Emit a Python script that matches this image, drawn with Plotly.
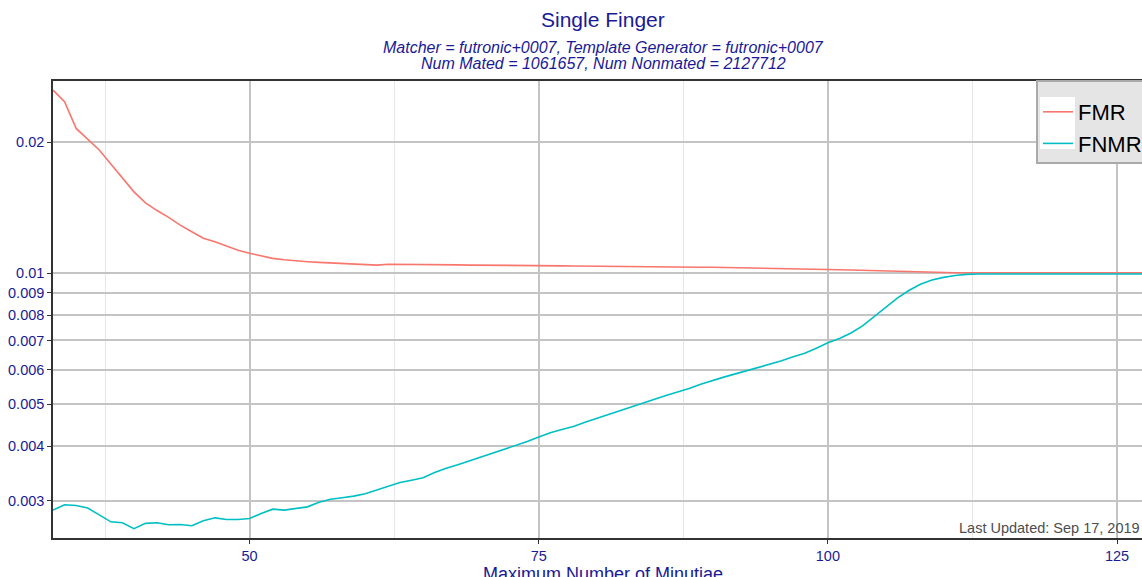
import plotly.graph_objects as go

minutiae = [33, 34, 35, 36, 37, 38, 39, 40, 41, 42, 43, 44, 45, 46, 47, 48, 49, 50,
            51, 52, 53, 54, 55, 56, 57, 58, 59, 60, 61, 62, 63, 64, 65, 66, 67, 68,
            69, 70, 71, 72, 73, 74, 75, 76, 77, 78, 79, 80, 81, 82, 83, 84, 85, 86,
            87, 88, 89, 90, 91, 92, 93, 94, 95, 96, 97, 98, 99, 100, 101, 102, 103,
            104, 105, 106, 107, 108, 109, 110, 111, 112, 113, 114, 115, 116, 117,
            118, 119, 120, 121, 122, 123, 124, 125, 126, 127, 128]

fmr = [0.02634, 0.02476, 0.02150, 0.02030, 0.01918, 0.01780, 0.01655, 0.01537,
       0.01450, 0.01392, 0.01343, 0.01289, 0.01244, 0.01202, 0.01180, 0.01155,
       0.01128, 0.01110, 0.01095, 0.01081, 0.01073, 0.01066, 0.01062, 0.01058,
       0.01055, 0.01052, 0.01048, 0.01045, 0.01043, 0.01048, 0.01048, 0.01047,
       0.01046, 0.01046, 0.01045, 0.01044, 0.01043, 0.01043, 0.01043, 0.01042,
       0.01042, 0.01042, 0.01041, 0.01040, 0.01039, 0.01038, 0.01037, 0.01036,
       0.01036, 0.01035, 0.01035, 0.01034, 0.01034, 0.01033, 0.01033, 0.01032,
       0.01031, 0.01031, 0.01030, 0.01030, 0.01029, 0.01028, 0.01027, 0.01026,
       0.01025, 0.01024, 0.01022, 0.01020, 0.01018, 0.01016, 0.01014, 0.01012,
       0.01010, 0.01008, 0.01006, 0.01005, 0.01004, 0.01003, 0.01002, 0.01002,
       0.01002, 0.01002, 0.01002, 0.01002, 0.01002, 0.01002, 0.01002, 0.01002,
       0.01002, 0.01002, 0.01002, 0.01002, 0.01002, 0.01002, 0.01002, 0.01002]

fnmr = [0.002852, 0.002934, 0.002924, 0.002883, 0.002782, 0.002681, 0.002667,
        0.002585, 0.002659, 0.002667, 0.002639, 0.002644, 0.002625, 0.002695,
        0.002738, 0.002715, 0.002715, 0.002729, 0.002802, 0.002867, 0.002852,
        0.002878, 0.002902, 0.002975, 0.003020, 0.003045, 0.003071, 0.003110,
        0.003175, 0.003240, 0.003300, 0.003340, 0.003384, 0.003480, 0.003560,
        0.003625, 0.003700, 0.003770, 0.003845, 0.003940, 0.004010, 0.004100,
        0.004200, 0.004295, 0.004370, 0.004440, 0.004540, 0.004635, 0.004725,
        0.004820, 0.004920, 0.005020, 0.005125, 0.005230, 0.005330, 0.005430,
        0.005555, 0.005665, 0.005765, 0.005865, 0.005965, 0.006065, 0.006170,
        0.006285, 0.006420, 0.006540, 0.006720, 0.006914, 0.007070, 0.007280,
        0.007560, 0.007930, 0.008340, 0.008760, 0.009120, 0.009420, 0.009640,
        0.009775, 0.009870, 0.009930, 0.009950, 0.009950, 0.009950, 0.009950,
        0.009950, 0.009950, 0.009950, 0.009950, 0.009950, 0.009950, 0.009950,
        0.009950, 0.009950, 0.009950, 0.009950, 0.009950]

y_ticks = [0.003, 0.004, 0.005, 0.006, 0.007, 0.008, 0.009, 0.01, 0.02]
y_tick_labels = ["0.003", "0.004", "0.005", "0.006", "0.007", "0.008", "0.009", "0.01", "0.02"]
x_ticks = [50, 75, 100, 125]
x_tick_labels = ["50", "75", "100", "125"]

title_text = "Single Finger"
subtitle_1 = "Matcher = futronic+0007, Template Generator = futronic+0007"
subtitle_2 = "Num Mated = 1061657, Num Nonmated = 2127712"
x_title = "Maximum Number of Minutiae"
updated_text = "Last Updated: Sep 17, 2019"

BLUE = "#1a1a96"
FONT = "Liberation Sans, Arial, sans-serif"

W, H = 1142, 577
L, R, T, B = 53, 0, 81, 39
pw = W - L - R
ph = H - T - B


def px(xp):
    return (xp - L) / pw


def py(yp):
    return (H - B - yp) / ph


fig = go.Figure()
fig.add_trace(go.Scatter(x=minutiae, y=fmr, mode="lines", name="FMR",
                         line=dict(color="#F8766D", width=1.6)))
fig.add_trace(go.Scatter(x=minutiae, y=fnmr, mode="lines", name="FNMR",
                         line=dict(color="#00BFC4", width=1.6)))

fig.update_layout(
    width=W, height=H,
    margin=dict(l=L, r=R, t=T, b=B, pad=0, autoexpand=False),
    paper_bgcolor="white", plot_bgcolor="white",
    font=dict(family=FONT, color=BLUE, size=14),
    showlegend=True,
    legend=dict(x=px(1038), y=py(91), xanchor="left", yanchor="top",
                bgcolor="rgba(0,0,0,0)", borderwidth=0,
                font=dict(size=22, color="black", family=FONT),
                tracegroupgap=0, itemwidth=30),
)

fig.update_xaxes(
    range=[33, 127.16], tickvals=x_ticks, ticktext=x_tick_labels,
    ticks="outside", ticklen=4, tickwidth=1.2, tickcolor="#333333",
    showline=True, linecolor="#333333", linewidth=1.5, mirror=True,
    showgrid=True, gridcolor="#c4c4c4", gridwidth=1.6,
    minor=dict(dtick=12.5, tick0=0, showgrid=True, gridcolor="#e6e6e6", gridwidth=1, ticks=""),
    tickfont=dict(size=14.5, color=BLUE), zeroline=False,
)
fig.update_yaxes(
    type="log", range=[-2.6089, -1.5586], tickvals=y_ticks, ticktext=y_tick_labels,
    ticks="outside", ticklen=4, tickwidth=1.2, tickcolor="#333333",
    showline=True, linecolor="#333333", linewidth=1.5, mirror=True,
    showgrid=True, gridcolor="#c4c4c4", gridwidth=1.6,
    tickfont=dict(size=14.5, color=BLUE), zeroline=False,
)

# legend box (grey panel with white key area)
fig.add_shape(type="rect", xref="paper", yref="paper",
              x0=px(1037), x1=px(1160), y0=py(163), y1=py(81),
              fillcolor="#e5e5e5", line=dict(color="#aaaaaa", width=2), layer="above")
fig.add_shape(type="rect", xref="paper", yref="paper",
              x0=px(1040), x1=px(1075), y0=py(149), y1=py(97),
              fillcolor="white", line=dict(width=0), layer="above")

ann = [
    dict(text=title_text, x=px(603), y=py(19), font=dict(size=21, color=BLUE)),
    dict(text="<i>" + subtitle_1 + "</i>", x=px(603), y=py(47), font=dict(size=16, color=BLUE)),
    dict(text="<i>" + subtitle_2 + "</i>", x=px(603), y=py(64), font=dict(size=16, color=BLUE)),
    dict(text=x_title, x=px(603), y=py(574), font=dict(size=18, color=BLUE)),
]
for a in ann:
    fig.add_annotation(xref="paper", yref="paper", xanchor="center", yanchor="middle",
                       showarrow=False, **a)
fig.add_annotation(text=updated_text, xref="paper", yref="paper", x=px(1142), y=py(538),
                   xanchor="right", yanchor="bottom", showarrow=False,
                   font=dict(size=14.5, color="#4d4d4d"))

fig.write_html("out.html", config={"displayModeBar": False},
               post_script="document.body.style.margin='0';document.body.style.overflow='hidden';")
